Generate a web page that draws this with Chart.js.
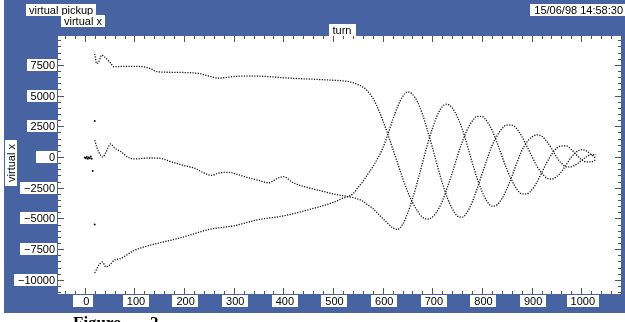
<!DOCTYPE html>
<html><head><meta charset="utf-8">
<script src="https://cdn.jsdelivr.net/npm/chart.js@4.4.0/dist/chart.umd.min.js"></script>
<style>html,body{margin:0;padding:0;background:#fff;overflow:hidden}canvas{display:block}</style>
</head><body>
<canvas id="c" width="625" height="322"></canvas>
<script>
// ---- data ----
const upperTurns  = [20,24,28,34,40,46,52,58,80,100,120,135,145,170,200,230,245,270,290,310,350,400,450,500,530,540,550,560,570,580,590,600,610,620,630,640,650,660,670,680,690,700,710,720,730,740,750,760,770,780,790,800,810,820,830,840,850,860,870,880,890,900,910,920,930,940,950,960,970,980,990,1000,1010,1020,1030];
const upperValues = [8400,7600,7750,8300,8150,7900,7650,7350,7380,7380,7330,7150,6950,6900,6880,6800,6650,6420,6500,6580,6580,6450,6350,6250,6150,6050,5900,5700,5350,4800,4000,3000,1900,700,-500,-1700,-2800,-3700,-4400,-4900,-5050,-4900,-4400,-3600,-2500,-1300,0,1200,2200,2900,3300,3300,2900,2200,1200,100,-1000,-1900,-2600,-3000,-3000,-2700,-2100,-1300,-500,200,700,900,900,600,200,-200,-400,-400,-200];

const middleTurns  = [20,24,28,36,42,52,60,74,86,100,130,150,175,200,220,240,255,270,290,310,330,350,370,390,400,420,450,480,500,520,540,560,570,580,590,600,610,620,630,640,650,660,670,680,690,700,710,720,730,740,750,760,770,780,790,800,810,820,830,840,850,860,870,880,890,900,910,920,930,940,950,960,970,980,990,1000,1010,1020,1030];
const middleValues = [1380,810,400,0,330,1060,730,400,0,-160,-80,-100,-400,-700,-900,-1300,-1500,-1300,-1250,-1450,-1700,-1900,-2100,-1700,-1600,-2100,-2500,-2800,-3000,-3150,-3300,-3600,-3900,-4200,-4600,-5000,-5400,-5750,-5900,-5500,-4600,-3400,-2000,-500,1000,2300,3400,4100,4300,4000,3300,2300,1000,-400,-1700,-2800,-3600,-4000,-3900,-3400,-2600,-1600,-500,500,1200,1600,1800,1700,1300,700,0,-500,-800,-800,-600,-300,0,200,200];

const lowerTurns  = [20,23,30,36,42,50,60,70,100,130,150,200,250,300,350,400,450,500,520,540,550,560,570,580,590,600,610,620,630,640,650,660,670,680,690,700,710,720,730,740,750,760,770,780,790,800,810,820,830,840,850,860,870,880,890,900,910,920,930,940,950,960,970,980,990,1000,1010,1020,1030];
const lowerValues = [-9440,-9200,-8700,-8550,-8950,-8800,-8380,-8300,-7600,-7200,-7000,-6500,-5900,-5600,-5100,-4800,-4300,-3700,-3350,-3000,-2500,-2000,-1400,-800,-100,700,1800,3000,4100,4900,5300,5100,4500,3500,2200,800,-700,-2100,-3300,-4200,-4800,-4900,-4500,-3700,-2600,-1400,-200,900,1700,2300,2600,2600,2300,1700,900,100,-700,-1300,-1700,-1800,-1600,-1200,-600,0,400,600,500,200,-100];

const strayTurns  = [0,2,4,6,8,10,12,14,16,20,20];
const strayValues = [-50,-100,0,-150,-50,-100,50,-150,-1140,2930,-5500];

const xMajorTicks = [0,100,200,300,400,500,600,700,800,900,1000];
const yMajorTicks = [7500,5000,2500,0,-2500,-5000,-7500,-10000];
const xMinorStep = 20, yMinorStep = 500;

const BLUE = '#4763a1';
const FONT = '11px "Liberation Sans", Arial, sans-serif';

const pts = (t, v) => t.map((x, i) => ({x, y: v[i]}));

function box(ctx, text, cx, cy, opts) {
  ctx.font = FONT;
  const w = ctx.measureText(text).width;
  const h = 12;
  let left, right;
  if (opts.align === 'right') { right = opts.right; left = Math.min(right - w - 6, right - (opts.minW || 0)); }
  else if (opts.align === 'left') { left = opts.left; right = left + w + 6; }
  else { right = cx + w / 2 + 4; left = Math.min(right - w - 8, right - (opts.minW || 0)); }
  const top = Math.round(cy - h / 2);
  ctx.fillStyle = '#fff';
  ctx.fillRect(Math.round(left), top, Math.round(right - left), h);
  ctx.fillStyle = '#000';
  ctx.textBaseline = 'alphabetic';
  const base = top + 10;
  if (opts.align === 'right') { ctx.textAlign = 'right'; ctx.fillText(text, right - 2, base); }
  else if (opts.align === 'left') { ctx.textAlign = 'left'; ctx.fillText(text, left + 3, base); }
  else { ctx.textAlign = 'center'; ctx.fillText(text, cx, base); }
}

const frame = {
  id: 'frame',
  beforeDraw(chart) {
    const {ctx, chartArea: a} = chart;
    ctx.save();
    ctx.fillStyle = '#fff'; ctx.fillRect(0, 0, 625, 322);
    ctx.fillStyle = BLUE; ctx.fillRect(4, 0, 621, 313);
    ctx.fillStyle = '#fff'; ctx.fillRect(a.left, a.top, a.right - a.left, a.bottom - a.top);
    ctx.restore();
  },
  afterDraw(chart) {
    const {ctx, chartArea: a, scales} = chart;
    const xs = scales.x, ys = scales.y;
    ctx.save();
    ctx.strokeStyle = '#555'; ctx.lineWidth = 1;
    ctx.beginPath();
    for (let v = Math.ceil(xs.min / xMinorStep) * xMinorStep; v <= xs.max; v += xMinorStep) {
      const px = Math.round(xs.getPixelForValue(v)) + 0.5;
      const len = (v % 100 === 0) ? 6 : 3;
      ctx.moveTo(px, a.bottom); ctx.lineTo(px, a.bottom - len);
      ctx.moveTo(px, a.top); ctx.lineTo(px, a.top + len);
    }
    for (let v = Math.ceil(ys.min / yMinorStep) * yMinorStep; v <= ys.max; v += yMinorStep) {
      const py = Math.round(ys.getPixelForValue(v)) + 0.5;
      const len = (v % 2500 === 0) ? 6 : 3;
      ctx.moveTo(a.left, py); ctx.lineTo(a.left + len, py);
      ctx.moveTo(a.right, py); ctx.lineTo(a.right - len, py);
    }
    ctx.stroke();
    // tick labels
    yMajorTicks.forEach(v => box(ctx, String(v).replace('-', '\u2212'), 0, ys.getPixelForValue(v), {align: 'right', right: a.left - 1, minW: 21}));
    xMajorTicks.forEach(v => box(ctx, String(v), xs.getPixelForValue(v) + 1.5, 301, {minW: 20}));
    // titles
    box(ctx, 'virtual pickup', 0, 10, {align: 'left', left: 26});
    box(ctx, 'virtual x', 0, 21, {align: 'left', left: 61});
    box(ctx, 'turn', 342, 30, {});
    box(ctx, '15/06/98 14:58:30', 0, 10, {align: 'right', right: 625});
    ctx.translate(11, 163); ctx.rotate(-Math.PI / 2);
    box(ctx, 'virtual x', 0, 0, {});
    ctx.restore();
    ctx.save();
    ctx.fillStyle = '#000';
    ctx.font = 'bold 17px "Liberation Serif", "Times New Roman", serif';
    ctx.textBaseline = 'alphabetic'; ctx.textAlign = 'left';
    ctx.fillText('Figure', 73, 328);
    ctx.fillText('2', 150, 328);
    ctx.restore();
  }
};

const lineDs = (data) => ({
  data, showLine: true, borderColor: '#111', borderWidth: 1.3, borderDash: [1.2, 1.4],
  pointRadius: 0, tension: 0.35, cubicInterpolationMode: 'monotone', fill: false
});

new Chart(document.getElementById('c'), {
  type: 'scatter',
  data: {
    datasets: [
      lineDs(pts(upperTurns, upperValues)),
      lineDs(pts(middleTurns, middleValues)),
      lineDs(pts(lowerTurns, lowerValues)),
      {data: pts(strayTurns, strayValues), showLine: false, pointRadius: 1, pointBorderWidth: 0,
       backgroundColor: '#111', borderColor: '#111'}
    ]
  },
  options: {
    responsive: false, animation: false, devicePixelRatio: 1,
    layout: {padding: {left: 58, top: 36, right: 0, bottom: 28}},
    plugins: {legend: {display: false}, tooltip: {enabled: false}},
    scales: {
      x: {type: 'linear', display: false, min: -54, max: 1080},
      y: {type: 'linear', display: false, min: -11156, max: 9853}
    }
  },
  plugins: [frame]
});
</script></body></html>
